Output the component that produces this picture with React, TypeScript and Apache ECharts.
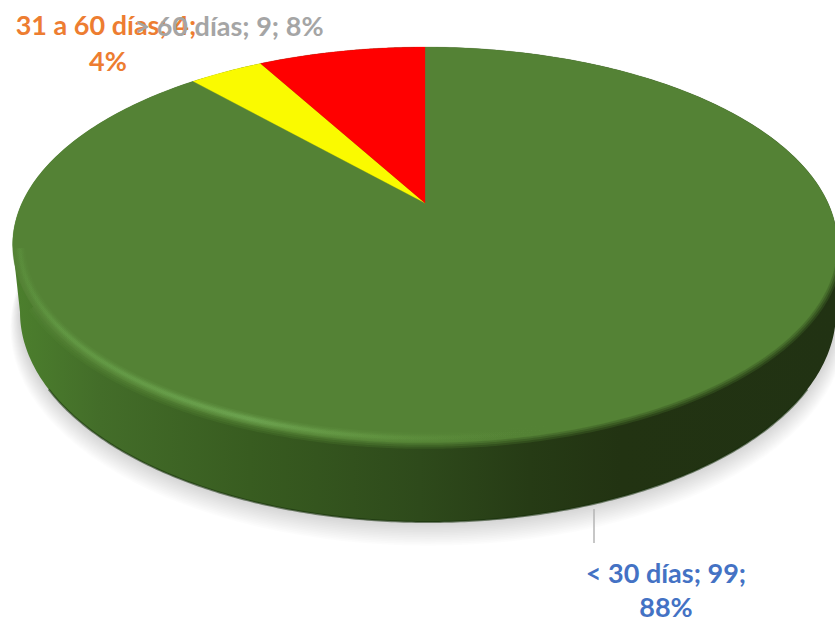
import React, { useEffect, useRef } from "react";
import * as echarts from "echarts";

const categories = ["< 30 días", "31 a 60 días", "> 60 días"];
const values = [99, 4, 9];
const sliceColors = ["#548235", "#FAFA00", "#FF0000"];
const labelColors = ["#4472C4", "#ED7D31", "#A5A5A5"];

const total = values.reduce((a, b) => a + b, 0);
const APEX = { x: 425, y: 203, a: 403, b: 189, k: 0.212 };
const BASE = { x: 428, y: 312, rx: 408, ry: 210 };
const FULL = Math.PI * 2;

function top(theta: number, scale = 1): number[] {
  const w = 1 + APEX.k * scale * Math.cos(theta);
  return [
    APEX.x + (APEX.a * scale * Math.sin(theta)) / w,
    APEX.y - (APEX.b * scale * Math.cos(theta)) / w,
  ];
}
function arc(from: number, to: number, scale = 1, steps = 240): number[][] {
  const pts: number[][] = [];
  for (let i = 0; i <= steps; i++) pts.push(top(from + ((to - from) * i) / steps, scale));
  return pts;
}
function base(t: number, grow = 0): number[] {
  return [
    BASE.x + (BASE.rx + grow * 0.7) * Math.sin(t),
    BASE.y + grow * 1.1 - (BASE.ry + grow * 0.6) * Math.cos(t),
  ];
}
function baseArc(from: number, to: number, grow = 0, steps = 240): number[][] {
  const pts: number[][] = [];
  for (let i = 0; i <= steps; i++) pts.push(base(from + ((to - from) * i) / steps, grow));
  return pts;
}

const RIGHT = Math.acos(-APEX.k);
const LEFT = FULL - RIGHT;

function hGrad(stops: [number, string][]) {
  return new echarts.graphic.LinearGradient(
    0, 0, 835, 0,
    stops.map(([p, c]) => ({ offset: p / 835, color: c })),
    true
  );
}

function renderBody() {
  const wall = [
    ...arc(LEFT, FULL + RIGHT),
    ...baseArc(Math.PI / 2, (3 * Math.PI) / 2),
  ];
  const wallFill = hGrad([
    [15, "#4c7f2d"], [100, "#436d29"], [250, "#385c20"], [420, "#2e4a1b"],
    [530, "#263b15"], [620, "#223312"], [835, "#213213"],
  ]);
  const lower = arc(RIGHT + 0.1, LEFT - 0.3);
  const edge = (lineWidth: number, opacity: number) => ({
    type: "polyline",
    shape: { points: lower },
    style: { fill: null, stroke: "#548235", lineWidth, opacity },
  });
  const shadow = [];
  for (let g = 1; g <= 14; g++) {
    shadow.push({
      type: "polygon",
      shape: { points: baseArc(0, FULL, g, 120) },
      style: { fill: "rgba(0,0,0,0.012)" },
    });
  }
  return {
    type: "group",
    children: [
      ...shadow,
      { type: "polygon", shape: { points: wall }, style: { fill: wallFill } },
      {
        type: "polyline",
        shape: { points: baseArc(Math.PI * 0.62, Math.PI * 1.38) },
        style: { fill: null, stroke: "rgba(20,45,10,0.55)", lineWidth: 2 },
      },
      edge(12, 0.25),
      edge(8, 0.35),
      edge(4, 0.5),
    ],
  };
}

function renderSlice(params: any, api: any) {
  const i = params.dataIndex;
  let before = 0;
  for (let j = 0; j < i; j++) before += values[j];
  const from = (before / total) * FULL;
  const to = ((before + api.value(0)) / total) * FULL;
  return {
    type: "polygon",
    shape: { points: [[APEX.x, APEX.y], ...arc(from, to, 1, 360)] },
    style: { fill: sliceColors[i], stroke: sliceColors[i], lineWidth: 0.3 },
  };
}

function renderRim() {
  const stroke = hGrad([
    [15, "rgba(100,160,70,0.3)"], [60, "rgba(106,166,76,0.65)"], [250, "rgba(118,176,90,0.9)"],
    [380, "rgba(106,160,72,0.6)"], [480, "rgba(96,146,62,0.25)"], [560, "rgba(84,130,53,0)"],
  ]);
  const pts = arc(Math.PI * 0.8, LEFT - 0.02, 0.984);
  const line = (lineWidth: number, opacity: number) => ({
    type: "polyline",
    shape: { points: pts },
    style: { fill: null, stroke, lineWidth, opacity },
  });
  return {
    type: "group",
    children: [line(11, 0.15), line(8, 0.2), line(5.5, 0.3), line(3, 0.4)],
  };
}

const font = "bold 27px Lato, 'Open Sans', sans-serif";
const labelSpots = [
  { x: 666, y: 572, y2: 606, x2: 666 },
  { x: 106, y: 24, y2: 60, x2: 108 },
  { x: 229, y: 25 },
];

function renderLabel(params: any, api: any) {
  const i = params.dataIndex;
  const v = api.value(0);
  const pct = `${Math.round((v / total) * 100)}%`;
  const spot: any = labelSpots[i];
  const style = (text: string, x: number, y: number) => ({
    type: "text",
    style: {
      text, x, y, font, fill: labelColors[i], align: "center", verticalAlign: "middle",
    },
  });
  if (spot.y2 === undefined) {
    return style(`${categories[i]}; ${v}; ${pct}`, spot.x, spot.y);
  }
  return {
    type: "group",
    children: [
      style(`${categories[i]}; ${v};`, spot.x, spot.y),
      style(pct, spot.x2, spot.y2),
    ],
  };
}

function renderLeader() {
  return {
    type: "line",
    shape: { x1: 594, y1: 509, x2: 594, y2: 543 },
    style: { stroke: "#B5B5B5", lineWidth: 1.5 },
  };
}

const App = () => {
  const ref = useRef<HTMLDivElement>(null);
  useEffect(() => {
    const chart = echarts.init(ref.current!, undefined, { renderer: "svg" });
    const data = values.map((v) => [v]);
    const custom = (name: string, renderItem: any, d: any[], z: number) => ({
      type: "custom", name, coordinateSystem: "none", renderItem, data: d, z, silent: true,
    });
    chart.setOption({
      animation: false,
      backgroundColor: "#ffffff",
      series: [
        custom("body", renderBody, [[total]], 1),
        custom("slices", renderSlice, data, 2),
        custom("rim", renderRim, [[total]], 3),
        custom("leader", renderLeader, [[total]], 4),
        custom("labels", renderLabel, [data[0], data[1], data[2]], 5),
      ],
    });
    return () => chart.dispose();
  }, []);
  return (
    <div
      ref={ref}
      style={{ position: "fixed", left: 0, top: 0, width: 835, height: 618 }}
    />
  );
};

export default App;
